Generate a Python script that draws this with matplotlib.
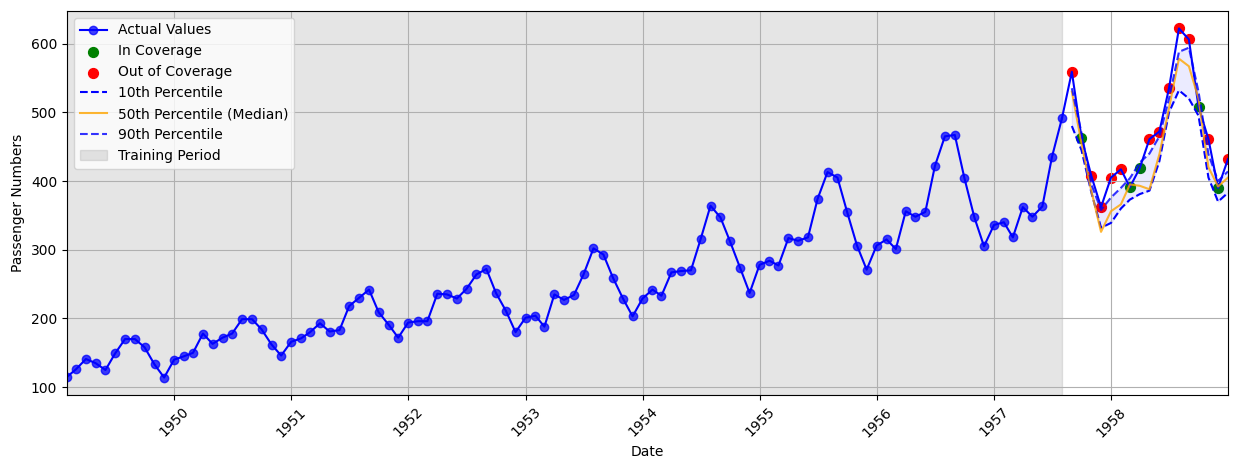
import numpy as np
import pandas as pd
import matplotlib
matplotlib.use("Agg")
import matplotlib.pyplot as plt
import matplotlib.dates as mdates

start_date = "1949-01-31"

train_values = [
    115, 126, 141, 135, 125, 149, 170, 170, 158, 133, 114, 140,
    145, 150, 178, 163, 172, 178, 199, 199, 184, 162, 146, 166,
    171, 180, 193, 181, 183, 218, 230, 242, 209, 191, 172, 194,
    196, 196, 236, 235, 229, 243, 264, 272, 237, 211, 180, 201,
    204, 188, 235, 227, 234, 264, 302, 293, 259, 229, 203, 229,
    242, 233, 267, 269, 270, 315, 364, 347, 312, 274, 237, 278,
    284, 277, 317, 313, 318, 374, 413, 405, 355, 306, 271, 306,
    315, 301, 356, 348, 355, 422, 465, 467, 404, 347, 305, 336,
    340, 318, 362, 348, 363, 435, 491,
]

test_values = [559, 463, 407, 362, 405, 417, 391, 419, 461, 472, 535, 622, 606, 508, 461, 390, 432]
q10 = [480, 445, 383, 332, 339, 360, 373, 381, 386, 429, 500, 532, 520, 495, 405, 370, 383]
q50 = [530, 455, 385, 326, 356, 366, 395, 393, 388, 439, 506, 578, 567, 520, 420, 392, 405]
q90 = [535, 470, 395, 358, 376, 390, 404, 427, 440, 465, 520, 588, 594, 530, 439, 400, 414]

n_total = len(train_values) + len(test_values)
dates = pd.date_range(start_date, periods=n_total, freq="ME")
ntr = len(train_values)
train_dates = dates[:ntr]
test_dates = dates[ntr:]
all_values = np.array(train_values + test_values, dtype=float)

tv = np.array(test_values, dtype=float)
lo = np.array(q10, dtype=float)
md = np.array(q50, dtype=float)
hi = np.array(q90, dtype=float)
inside = (tv >= lo) & (tv <= hi)

fig = plt.figure(figsize=(12.38, 4.69), dpi=100)
ax = fig.add_axes([67 / 1238, 74 / 469, (1228 - 67) / 1238, (395 - 11) / 469])

span = ax.axvspan(train_dates[0], train_dates[-1], color="gray", alpha=0.2, label="Training Period")
s_in = ax.scatter(test_dates[inside], tv[inside], color="green", s=50, label="In Coverage")
s_out = ax.scatter(test_dates[~inside], tv[~inside], color="red", s=50, label="Out of Coverage")
actual, = ax.plot(train_dates, train_values, "-", color="blue", marker="o",
                  markerfacecolor=(0, 0, 1, 0.75), markeredgecolor=(0, 0, 1, 0.75),
                  label="Actual Values")
ax.plot(dates[ntr - 1:], all_values[ntr - 1:], "-", color="blue")
l10, = ax.plot(test_dates, lo, "--", color="blue", label="10th Percentile")
l50, = ax.plot(test_dates, md, "-", color="orange", alpha=0.8, label="50th Percentile (Median)")
l90, = ax.plot(test_dates, hi, "--", color="blue", alpha=0.8, label="90th Percentile")
ax.fill_between(test_dates, lo, hi, color="blue", alpha=0.08)

ax.set_xlim(dates[0], dates[-1])
ax.xaxis.set_major_locator(mdates.YearLocator())
ax.xaxis.set_major_formatter(mdates.DateFormatter("%Y"))
plt.setp(ax.get_xticklabels(), rotation=45)
ax.set_xlabel("Date")
ax.set_ylabel("Passenger Numbers")
ax.grid(True)
ax.legend(handles=[actual, s_in, s_out, l10, l50, l90, span], loc="upper left")

fig.savefig("out.png", dpi=100)
